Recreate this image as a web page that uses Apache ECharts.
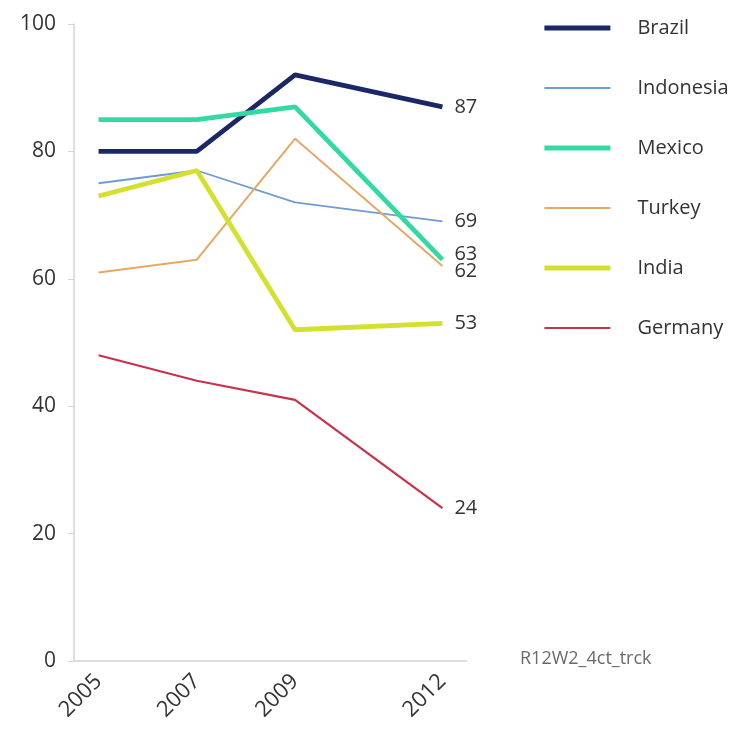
<!DOCTYPE html>
<html>
<head>
<meta charset="utf-8">
<script src="https://cdn.jsdelivr.net/npm/echarts@6/dist/echarts.min.js"></script>
<style>
  html, body { margin: 0; padding: 0; background: #fff; }
  #chart { width: 741px; height: 731px; }
</style>
</head>
<body>
<div id="chart"></div>
<script>
// Every year on the axis, and the survey years that carry values
const axisYears = ['2005', '2006', '2007', '2008', '2009', '2010', '2011', '2012'];
const labelledYears = ['2005', '2007', '2009', '2012'];
const surveyYears = ['2005', '2007', '2009', '2012'];

const brazil    = [80, 80, 92, 87];
const indonesia = [75, 77, 72, 69];
const mexico    = [85, 85, 87, 63];
const turkey    = [61, 63, 82, 62];
const india     = [73, 77, 52, 53];
const germany   = [48, 44, 41, 24];

const yTicks = [0, 20, 40, 60, 80, 100];

const countries = [
  { name: 'Brazil',    values: brazil,    color: '#1b2767', width: 4.8, labelDy: 0 },
  { name: 'Indonesia', values: indonesia, color: '#6e9bd3', width: 1.8, labelDy: 0 },
  { name: 'Mexico',    values: mexico,    color: '#33d9a2', width: 4.8, labelDy: -5 },
  { name: 'Turkey',    values: turkey,    color: '#e6a866', width: 2,   labelDy: 5 },
  { name: 'India',     values: india,     color: '#d3e02e', width: 4.8, labelDy: 0 },
  { name: 'Germany',   values: germany,   color: '#c8324a', width: 2.2, labelDy: 0 }
];

const font = '"Open Sans", "Noto Sans", sans-serif';

const series = countries.map(c => ({
  name: c.name,
  type: 'line',
  data: surveyYears.map((y, i) => [y, c.values[i]]),
  symbol: 'none',
  connectNulls: true,
  color: c.color,
  lineStyle: { color: c.color, width: c.width },
  emphasis: { disabled: true },
  endLabel: {
    show: true,
    formatter: p => String(p.value[1]),
    color: '#333',
    fontSize: 20,
    fontFamily: font,
    distance: 12,
    offset: [0, c.labelDy]
  }
}));

const chart = echarts.init(document.getElementById('chart'), null, { renderer: 'canvas' });
chart.setOption({
  animation: false,
  backgroundColor: '#fff',
  grid: { left: 74, right: 274, top: 24, bottom: 70, containLabel: false },
  xAxis: {
    type: 'category',
    data: axisYears,
    boundaryGap: true,
    axisLine: { lineStyle: { color: '#d4d4d4', width: 1.5 } },
    axisTick: { alignWithLabel: true, interval: 0, length: 6, lineStyle: { color: '#d4d4d4' } },
    axisLabel: {
      interval: (idx, val) => labelledYears.includes(val),
      rotate: 45,
      color: '#333',
      fontSize: 22,
      fontFamily: font,
      margin: 17
    },
    splitLine: { show: false }
  },
  yAxis: {
    type: 'value',
    min: yTicks[0],
    max: yTicks[yTicks.length - 1],
    interval: yTicks[1] - yTicks[0],
    axisLine: { show: true, lineStyle: { color: '#d4d4d4', width: 1.5 } },
    axisTick: { show: true, length: 6, lineStyle: { color: '#d4d4d4' } },
    axisLabel: { color: '#333', fontSize: 21, fontFamily: font, margin: 18 },
    splitLine: { show: false }
  },
  legend: {
    orient: 'vertical',
    left: 537,
    top: 13,
    itemWidth: 66,
    itemHeight: 14,
    itemGap: 40,
    itemStyle: { opacity: 0 },
    textStyle: { color: '#333', fontSize: 20, fontFamily: font, padding: [0, 0, 0, 22] },
    data: countries.map(c => ({
      name: c.name,
      lineStyle: { color: c.color, width: c.width }
    })),
    selectedMode: false
  },
  graphic: [{
    type: 'text',
    left: 520,
    top: 650,
    style: { text: 'R12W2_4ct_trck', fill: '#6a6a6a', font: '18px ' + font }
  }],
  series
});
</script>
</body>
</html>
